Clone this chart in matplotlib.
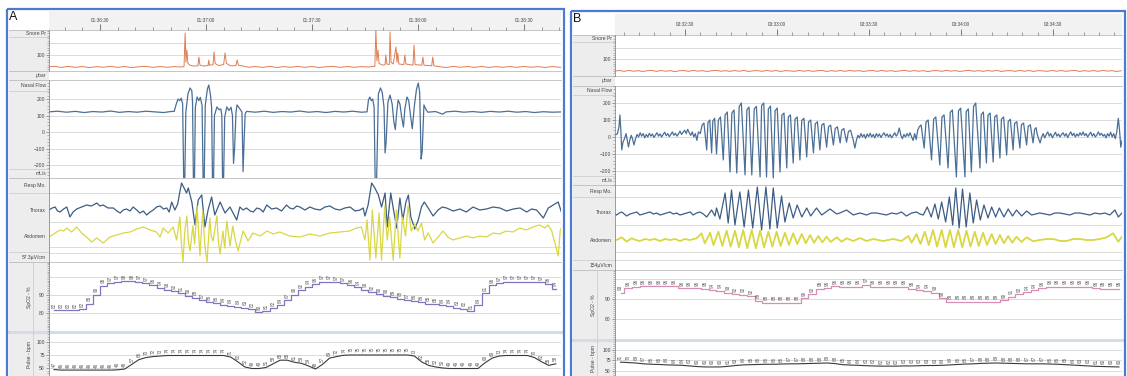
import numpy as np
import matplotlib.pyplot as plt
from matplotlib.patches import Rectangle
from matplotlib.ticker import MultipleLocator

plt.rcParams['font.family'] = ['Liberation Sans', 'DejaVu Sans']

W, H = 1127, 376

# time axis: seconds from the first labelled tick
tick_times = [0, 30, 60, 90, 120]
ticks_a = ['01:36:30', '01:37:00', '01:37:30', '01:38:00', '01:38:30']
ticks_b = ['03:32:30', '03:33:00', '03:33:30', '03:34:00', '03:34:30']

# ---------------- panel A, (time s, value) ----------------
snore_a = [(-14.5, 0), (-13, 6), (-11, -4), (-9, 5), (-7, -3), (-5, 4), (-3, -5), (-1, 3), (1, -2), (3, 6),
           (5, -3), (7, 4), (9, -5), (11, 2), (13, 5), (15, -3), (17, 4), (19, -2), (21, 3), (23, 0),
           (23.8, 5), (24.1, 283), (24.35, 40), (24.6, 142), (24.9, 30), (25.5, 15), (26.5, 8), (27.7, 10),
           (28.0, 83), (28.3, 15), (29.5, 8), (30.6, 12), (30.8, 58), (31.0, 15), (32.0, 20), (32.3, 125),
           (32.6, 30), (33.5, 12), (35.0, 20), (35.4, 117), (35.8, 30), (37, 10), (38.5, 12), (38.8, 58),
           (39.2, 15), (40.5, 8), (42, -2), (44, 4), (46, -3), (48, 5), (50, -4), (52, 3), (54, -2), (56, 5),
           (58, -3), (60, 4), (62, -4), (64, 2), (66, 5), (68, -3), (70, 4), (72, -2), (74, 3), (76, 0),
           (77.8, 5), (78.1, 308), (78.4, 50), (78.7, 142), (79.0, 30), (80.0, 15), (80.7, 20), (80.9, 100),
           (81.2, 25), (81.9, 20), (82.1, 292), (82.4, 40), (83.0, 25), (83.8, 167), (84.05, 40), (84.3, 117),
           (84.6, 25), (86.0, 20), (86.3, 100), (86.6, 25), (88.6, 15), (88.9, 183), (89.2, 20), (91.1, 15),
           (91.4, 83), (91.7, 15), (93.9, 10), (94.2, 83), (94.5, 10), (96, 3), (98, -4), (100, 5), (102, -2),
           (104, 4), (106, -3), (108, 5), (110, -4), (112, 3), (114, -2), (116, 4), (118, -3), (120, 5),
           (122, -2), (124, 3), (126, -4), (128, 4), (130, -2), (131, 0)]

flow_a = [(-14.5, 122), (-12.0, 126), (-9.5, 120), (-7.0, 125), (-4.5, 118), (-2.0, 124), (0.5, 121),
          (3.0, 127), (5.5, 119), (8.0, 124), (10.5, 120), (13.0, 126), (15.5, 122), (18.0, 118), (20.0, 124),
          (21.0, 125), (21.6, 170), (22.1, 200), (22.6, 190), (23.0, 205), (23.4, 170), (23.7, -300),
          (24.0, -300), (24.3, 120), (24.9, 230), (25.5, 267), (26.0, 250), (26.2, 180), (26.45, -300),
          (26.75, -300), (27.0, 150), (27.5, 212), (28.0, 190), (28.4, 210), (28.9, 160), (29.2, -300),
          (29.5, -300), (29.8, 160), (30.4, 260), (30.8, 285), (31.3, 220), (31.6, 150), (31.85, -300),
          (32.15, -300), (32.4, 100), (33.1, 152), (33.7, 135), (34.2, 140), (34.5, 100), (34.7, -300),
          (35.0, -280), (35.3, 90), (35.9, 152), (36.5, 130), (37.1, 150), (37.5, 100), (37.8, -190),
          (38.1, -100), (38.5, 120), (38.8, 164), (39.6, 140), (40.2, 120), (40.5, -240), (40.8, -50),
          (41.1, 110), (41.5, 125), (44.0, 120), (46.5, 126), (49.0, 119), (51.5, 124), (54.0, 121),
          (56.5, 127), (59.0, 120), (61.5, 124), (64.0, 118), (66.5, 125), (69.0, 121), (71.5, 126),
          (74.0, 120), (75.6, 122), (76.0, 195), (76.4, 212), (76.8, 190), (77.2, 200), (77.6, 150),
          (77.9, -300), (78.3, -300), (78.8, 230), (79.4, 267), (79.9, 240), (80.4, 150), (80.7, -127),
          (81.0, -60), (81.5, 180), (82.1, 224), (82.7, 170), (83.2, 60), (83.6, 15), (84.0, 120),
          (84.4, 194), (84.9, 170), (85.4, 90), (85.9, 30), (86.3, 140), (86.9, 212), (87.4, 190),
          (87.9, 100), (88.4, 20), (89.0, 160), (89.6, 260), (90.1, 297), (90.5, 240), (90.9, -164),
          (91.2, -120), (91.7, 164), (92.2, 140), (92.8, 120), (95.0, 124), (97.0, 108), (98.0, 122),
          (100.5, 126), (103.0, 120), (105.5, 124), (108.0, 119), (110.5, 125), (113.0, 121), (115.5, 126),
          (118.0, 120), (120.5, 124), (123.0, 118), (125.5, 123), (128.0, 120), (131.0, 122)]

thorax_a = [(-14.5, 0), (-13.5, 2), (-12.7, 3), (-12, -1), (-11.3, -2), (-10.3, 1), (-9.4, 3), (-8.5, -7),
            (-7.6, -2), (-6.6, 1), (-5.2, 3), (-3.8, 5), (-2.4, 4), (-0.9, 7), (0.0, 4), (0.9, 5), (2.3, 2),
            (3.8, 2), (4.8, -1), (5.7, -3), (6.6, 0), (7.5, 1), (8.5, -1), (9.4, 3), (10.4, 0), (11.3, -3),
            (12.3, -1), (13.2, -5), (14.2, -2), (15.1, 0), (16.0, 3), (17.0, 4), (18.0, 1), (18.9, 2),
            (19.6, -2), (20.3, 8), (21.2, 0), (22.0, 6), (22.6, 18), (23.1, 27), (23.8, 22), (24.5, 17),
            (25.0, 22), (26.0, 8), (26.9, -15), (27.8, 10), (28.8, 15), (29.7, -17), (30.6, 0), (31.6, 13),
            (32.5, -5), (34.0, 8), (35.4, -3), (36.8, 3), (38.7, -10), (39.6, 3), (40.5, 0), (41.5, 2),
            (42.5, -1), (43.4, -2), (44.4, 2), (45.3, 1), (46.2, -2), (47.2, 5), (48.6, 1), (50.0, 2),
            (51.4, -1), (52.8, 5), (53.7, 2), (54.7, 1), (55.7, 4), (56.6, 3), (58.0, 0), (59.4, 3),
            (60.8, 1), (62.3, 0), (63.7, 3), (65.1, 4), (66.5, 1), (67.9, 0), (69.3, 2), (70.8, 3),
            (72.2, -1), (73.6, 0), (74.5, 2), (75.0, -6), (75.9, 5), (76.9, 27), (77.8, 22), (78.8, 15),
            (79.7, 3), (80.7, 17), (81.3, -17), (82.3, 17), (83.0, 2), (84.0, -18), (84.9, 12), (85.7, -10),
            (86.6, 8), (87.3, 15), (88.0, -7), (89.1, -19), (90.1, -10), (91.0, 3), (91.8, 8), (92.9, 2),
            (94.3, -6), (95.7, 0), (96.9, 3), (98.1, 2), (100.0, -1), (101.9, 1), (103.7, -2), (105.6, 3),
            (107.5, 0), (109.4, 1), (111.3, 3), (113.2, 2), (115.1, -1), (117.0, 1), (118.9, 2), (120.8, -2),
            (122.2, 1), (123.6, 0), (125.5, -8), (126.9, 2), (128.3, 5), (129.7, 8), (130.6, -2), (131, -3)]

abdomen_a = [(-14.5, -1), (-13.5, 1), (-12.7, 3), (-11.3, 6), (-10.3, 5), (-9.4, 8), (-8.0, 4), (-6.6, 9),
             (-5.2, 3), (-3.8, -1), (-2.4, -6), (-0.9, -2), (0.9, -7), (2.8, -1), (4.7, 1), (6.6, 3), (8.5, 4),
             (10.4, 7), (12.3, 9), (14.2, 6), (16.0, 4), (17.0, -1), (17.9, 8), (19.3, 3), (20.7, 9),
             (21.7, -4), (22.6, 19), (23.1, -10), (23.5, -26), (24.0, 5), (24.6, 20), (25.0, -5), (25.5, -15),
             (26.3, 10), (26.8, -8), (27.5, 30), (28.3, -20), (28.7, 5), (29.1, 25), (29.7, -10), (30.3, -26),
             (31.1, 18), (31.5, 0), (32.0, -5), (33.1, 20), (33.5, -5), (34.0, -18), (34.8, 5), (35.3, -12),
             (35.9, 15), (36.8, -10), (37.6, 10), (38.3, -4), (39.1, -15), (40.5, 5), (41.9, -5), (43.3, 3),
             (45.3, 0), (47.3, 5), (49.0, 2), (50.9, 4), (53.7, 0), (56.6, -1), (59.4, 2), (62.2, 0), (65.1, 3),
             (67.9, 4), (70.7, 5), (72.6, 8), (74.0, 9), (75.0, -4), (75.6, 16), (76.4, -24), (77.1, 26),
             (78.1, -22), (79.0, 23), (79.7, -24), (80.6, 30), (81.3, -4), (82.0, 19), (83.0, -24), (83.9, 26),
             (84.9, -22), (85.6, 19), (86.5, 0), (87.2, 30), (88.1, 5), (89.1, 12), (90.0, 5), (91.0, 13),
             (91.9, -4), (92.9, 3), (94.3, -7), (95.7, -1), (97.1, 5), (98.5, -1), (99.9, -4), (101.8, -2),
             (103.7, 0), (105.6, -2), (107.5, 0), (109.4, -1), (111.3, 3), (113.1, 2), (115.0, 5), (116.9, 4),
             (118.8, 8), (120.7, 6), (122.6, 9), (124.5, 11), (125.9, 8), (126.8, 11), (127.8, 6), (129.0, -10),
             (129.7, -20), (130.3, 6), (131.0, 11)]

# SpO2 (%) and pulse (bpm), one reading every 2 s from t = -13 s
spo2_a = [81.5, 81.5, 81.5, 81.5, 82, 85, 90, 95, 96.6, 97.2,
          97.5, 97.5, 97.2, 96.6, 95.5, 94, 92.8, 92, 91, 89.5,
          88.3, 87, 86, 85.5, 84.5, 84, 83.5, 83, 82, 80.5,
          80.8, 82.5, 84.4, 87, 90, 92.5, 94.5, 96, 97.2, 97.2,
          97, 96.6, 95.5, 94.2, 93, 91.5, 90.5, 89.5, 88.8, 87.8,
          87, 86.5, 85.8, 85.2, 84.8, 84.2, 84, 83, 82.2, 81,
          84.4, 91, 95.5, 96.6, 97.2, 97.2, 97.2, 97.2, 97.2, 97,
          96, 93.5]
pulse_a = [47, 46, 46, 46, 46, 46, 46, 46, 46, 46.5,
           48, 57, 66, 70, 72, 73, 74, 74, 74, 74,
           74, 74, 74, 74, 74, 71, 62, 52, 49, 49,
           51, 58, 65, 65, 61, 59, 54, 48, 57, 69,
           72, 74.5, 75, 75, 75, 75, 75, 75, 75, 75,
           75, 73, 62, 55, 52, 50, 49, 49, 49, 49,
           49, 60, 69, 73, 74, 74, 74, 74, 70, 62,
           55, 58]

# ---------------- panel B ----------------
# snore pressure, one reading every 1.5 s from t = -22.8 s
snore_b = [0, 4, -3, 5, -2, 3, -4, 2, 5, -3, 4, -2, 3, -5, 2, 4, -3, 5, -1, 3,
           -4, 2, 5, -2, 3, -3, 4, -2, 5, -4, 2, 3, -3, 5, -2, 4, -4, 3, 1, -3,
           5, -2, 4, -3, 2, 5, -4, 3, -2, 4, -3, 5, -1, 3, -4, 2, 4, -3, 5, -2,
           3, -4, 2, 5, -3, 4, -2, 3, -5, 2, 4, -3, 5, -1, 3, -4, 2, 5, -2, 3,
           -3, 4, -2, 5, -4, 2, 3, -3, 5, -2, 4, -4, 3, 1, -3, 5, -2, 4, -3, 2,
           5, -4, 3, -2, 4, -3, 5, -1, 3, -4, 2]

flow_b = [(-22.8, 10), (-22.0, 20), (-21.5, 60), (-21.2, 130), (-20.9, 40), (-20.6, -76), (-20.2, -30),
          (-19.7, -10), (-19.2, 20), (-18.8, -20), (-18.4, -59), (-18.0, -20), (-17.5, 10), (-17.1, -10),
          (-16.6, -47), (-16.1, -10), (-15.6, 15), (-15.1, 0), (-14.6, 25), (-14.1, 5), (-13.6, 20),
          (-13.1, -5), (-12.6, 15), (-12.1, 0), (-11.6, 22), (-11.1, 5), (-10.6, 18), (-10.1, -3), (-9.6, 12),
          (-9.1, 25), (-8.6, 5), (-8.1, 18), (-7.6, 0), (-7.1, 15), (-6.6, 28), (-6.1, 8), (-5.6, 20),
          (-5.1, 2), (-4.6, 15), (-4.1, 30), (-3.6, 10), (-3.1, 22), (-2.6, 5), (-2.1, 18), (-1.6, 35),
          (-1.1, 15), (-0.6, 28), (-0.1, 40), (0.4, 20), (0.9, 45), (1.4, 25), (1.9, 10), (2.4, 30), (2.9, 0),
          (3.4, 20), (3.9, -20), (4.4, 30), (5.0, 20),
          (5.6, 70), (6.2, 82), (7.1, -76), (7.5, 85), (8.1, 100), (8.7, -94), (9.1, 95), (9.7, 110),
          (10.3, -100), (10.9, 100), (11.6, 118), (12.5, -135), (13.1, 130), (13.8, 147), (14.7, -206),
          (15.3, 140), (16.0, 159), (16.9, -212), (17.7, 180), (18.4, 200), (19.6, -223), (20.2, 160),
          (20.9, 176), (21.8, -223), (22.6, 165), (23.3, 180), (24.5, -235), (25.0, 185), (25.7, 200),
          (26.6, -235), (27.2, 165), (27.9, 182), (28.8, -241), (29.4, 155), (30.1, 170), (31.0, -206),
          (31.6, 128), (32.3, 141), (33.2, -182), (33.7, 118), (34.4, 130), (35.3, -153), (35.9, 105),
          (36.6, 118), (37.5, -135), (38.1, 98), (38.8, 110), (39.7, -118), (40.3, 88), (41.0, 100),
          (41.9, -94), (42.5, 78), (43.2, 90), (44.0, -76), (44.6, 70), (45.3, 80), (46.2, -60), (46.8, 60),
          (47.5, 70), (48.4, -47), (49.0, 50), (49.7, 60), (50.6, -35), (51.1, 40), (51.8, 50), (52.7, -30),
          (53.3, 32), (54.0, 40), (54.9, -20),
          (55.4, -65), (55.9, -20), (56.4, 10), (56.9, -5), (57.4, 20), (57.9, 0), (58.4, 15), (58.9, -8),
          (59.4, 18), (59.9, 2), (60.4, 22), (60.9, 0), (61.4, 15), (61.9, -5), (62.4, 20), (62.9, 3),
          (63.4, 18), (63.9, -3), (64.4, 12), (64.9, 25), (65.4, 5), (65.9, 18), (66.4, 0), (66.9, 15),
          (67.4, -5), (67.9, 10), (68.4, 25), (68.9, 5), (69.4, 20), (69.9, 53), (70.4, 10), (70.9, -10),
          (71.4, 15), (71.9, 0), (72.4, 20), (72.9, 5), (73.4, 25), (73.9, 0), (74.4, -20), (74.9, 20),
          (75.4, -15), (75.9, 40),
          (76.4, 60), (77.0, 71), (78.0, -65), (78.6, 88), (79.3, 100), (80.4, -135), (81.1, 105),
          (81.8, 118), (83.1, -165), (83.8, 118), (84.5, 130), (85.8, -182), (86.5, 145), (87.2, 159),
          (88.5, -235), (89.2, 155), (89.9, 170), (91.3, -235), (91.7, 150), (92.4, 165), (93.4, -206),
          (94.1, 180), (94.8, 200), (96.2, -182), (96.6, 132), (97.3, 147), (98.3, -153), (98.8, 128),
          (99.5, 141), (100.5, -147), (101.0, 118), (101.7, 130), (102.7, -124), (103.2, 105), (103.9, 118),
          (104.9, -106), (105.4, 92), (106.1, 104), (107.0, -76), (107.5, 80), (108.2, 90), (109.2, -65),
          (109.7, 72), (110.4, 82), (111.4, -47), (111.9, 62), (112.6, 72), (113.5, -35), (114.0, 45),
          (114.5, 55),
          (114.8, 20), (115.3, -10), (115.8, -35), (116.3, 0), (116.8, 20), (117.3, -5), (117.8, 15),
          (118.3, 30), (118.8, 5), (119.3, 20), (119.8, -5), (120.3, 12), (120.8, 28), (121.3, 5), (121.8, 18),
          (122.3, 0), (122.8, 15), (123.3, 25), (123.8, 5), (124.3, 20), (124.8, -3), (125.3, 15), (125.8, 30),
          (126.3, 8), (126.8, 22), (127.3, 0), (127.8, 18), (128.3, 5), (128.8, 25), (129.3, 10), (129.8, 30),
          (130.3, 8), (130.8, 20), (131.3, 0), (131.8, 15), (132.3, 28), (132.8, 5), (133.3, 20), (133.8, 0),
          (134.3, 12), (134.8, 30), (135.3, 10), (135.8, 22), (136.3, 5), (136.8, 15), (137.3, -5),
          (137.8, 20), (138.3, 5), (138.8, 28), (139.3, 0), (139.8, 20), (140.3, -10), (140.8, 30),
          (141.3, 110), (141.7, 40), (142.1, -60), (142.5, -20)]

thorax_b = [(-22.8, -1), (-22.3, -2), (-21.4, 0), (-20.6, 1), (-19.8, -1), (-19.0, -3), (-17.9, -1), (-16.8, 0),
            (-15.7, 1), (-14.7, -2), (-13.6, -1), (-12.5, 0), (-11.4, 1), (-10.3, -1), (-9.2, 0), (-8.1, -2),
            (-7.0, -1), (-6.0, 0), (-4.9, 1), (-3.8, -1), (-2.7, 0), (-1.6, -2), (-0.5, -1), (0.6, 0),
            (1.7, 1), (2.7, -2), (3.8, 0), (4.9, 1), (6.0, -1), (7.1, -4), (8.7, 3), (9.8, -3), (10.3, 5),
            (11.4, -6), (13.1, 20), (14.1, -10), (15.2, 23), (16.3, -12), (17.9, 21), (19.3, -14), (20.7, 23),
            (22.1, -15), (23.6, 26), (25.0, -17), (26.4, 26), (27.7, -16), (28.8, 25), (30.1, -15), (31.5, 17),
            (32.6, -9), (34.0, 10), (35.3, -5), (36.6, 8), (38.1, -4), (39.7, 5), (41.0, -3), (42.9, 5),
            (44.6, -2), (47.3, 4), (49.5, -1), (50.5, 0), (52.7, 3), (54.9, -2), (55.9, -1), (57.1, 0),
            (59.2, -2), (60.8, 0), (62.5, 0), (64.1, -1), (65.7, -2), (67.4, 0), (69.0, -1), (70.6, 1),
            (72.2, -3), (73.9, 0), (75.5, 1), (76.6, -1), (77.7, -2), (79.0, 6), (80.3, -4), (81.5, 9),
            (82.6, -6), (83.7, 11), (85.0, -9), (86.2, 16), (87.3, -12), (88.3, 25), (89.4, -15), (90.5, 24),
            (91.7, -14), (92.9, 20), (94.0, -10), (95.1, 13), (96.3, -7), (97.5, 8), (98.8, -5), (100.0, 6),
            (101.3, -4), (102.5, 5), (104.0, -4), (105.4, 4), (106.8, -3), (108.1, 3), (109.8, -3), (111.4, 2),
            (113.0, -2), (115.7, 0), (117.4, -1), (119.0, -2), (120.6, 0), (122.2, 0), (123.9, -1), (125.5, -2),
            (127.1, 0), (128.8, 0), (130.4, -1), (132.0, -2), (133.7, 0), (135.3, -1), (136.9, 0), (138.5, -2),
            (140.2, 3), (141.3, -4), (142.5, 0)]

abdomen_b = [(-22.8, 0), (-22.3, 0), (-20.6, 2.7), (-19.0, -1.7), (-17.4, 1.7), (-16.0, 0), (-14.7, -1),
             (-13.0, 1), (-11.4, 0), (-9.8, 1), (-8.1, -1), (-6.5, 1), (-4.9, 0), (-3.2, 1), (-1.6, -1),
             (0.0, 1), (1.6, 0), (3.8, 1.7), (5.4, 6.7), (6.5, -3.3), (8.2, 7.3), (9.3, -5), (10.9, 8.3),
             (12.2, -6), (13.6, 9.3), (14.9, -6.7), (16.3, 9.3), (17.6, -7.3), (19.0, 10), (20.3, -8.3),
             (21.8, 10), (23.1, -8.3), (24.5, 9.3), (25.8, -7.3), (27.2, 8.3), (28.5, -6.7), (29.9, 8.3),
             (31.2, -6), (32.6, 7.3), (33.9, -5), (35.3, 6.7), (36.6, -4), (38.1, 6), (39.4, -3.3), (40.8, 5),
             (42.1, -2.7), (43.5, 4), (44.8, -2.3), (46.2, 3.3), (47.5, -2), (49.5, 2.7), (51.1, -1.7),
             (52.7, 1.7), (54.9, -1), (57.0, 2), (59.2, -1), (61.4, 1), (64.6, -1), (67.9, 1), (70.6, -1),
             (72.8, 4), (73.9, -2.7), (75.5, 6), (76.8, -4), (78.2, 8.3), (79.5, -5), (80.9, 10), (82.2, -6.7),
             (83.7, 10), (85.0, -7.3), (86.4, 10), (87.7, -7.3), (89.1, 10), (90.4, -7.3), (91.8, 9.3),
             (93.1, -6.7), (94.5, 8.3), (95.8, -6), (97.2, 7.3), (98.5, -5), (100.0, 6), (101.3, -4),
             (102.7, 5), (104.0, -3.3), (105.4, 4), (106.7, -2.7), (108.1, 3.3), (109.7, -2), (111.4, 2.7),
             (113.5, -1.3), (115.7, 0), (117.9, 1), (120.1, 1), (122.3, -1), (124.4, -1), (126.6, 1),
             (128.8, 1), (131.0, 0), (133.1, 0), (135.3, 1), (137.5, 2.7), (139.6, 6.7), (141.3, -1.7),
             (142.5, 3.3)]

# SpO2 (%) and pulse (bpm), one reading every 2.5 s from t = -21 s
spo2_b = [93, 95.5, 96, 96.5, 96.5, 96.5, 96.5, 96.5, 95.5, 95.5,
          95.5, 95, 94.5, 94, 93, 92.5, 92, 91.5, 89, 88.2,
          88.2, 88.2, 88, 88, 90.5, 92.5, 95, 95.5, 96.5, 96,
          96, 96, 97, 96, 96, 96, 96, 96, 95, 94.5,
          94, 93, 90.5, 88.7, 88.7, 88.7, 88.7, 88.7, 88.7, 88.7,
          89.5, 91, 92.5, 93.5, 94.5, 95.5, 96, 96, 96, 96,
          96, 96, 95.5, 95, 95, 95]
pulse_b = [71, 70, 69, 67, 66, 65.5, 64.5, 64, 63.5, 62,
           60.5, 59.6, 59.6, 59.6, 61, 63, 64.5, 65, 65.5, 66,
           66, 66.5, 67, 67, 67.5, 68, 68.5, 69, 67.5, 65,
           64, 63.5, 62.5, 62, 61.5, 61.5, 61.5, 62, 62, 62.5,
           63, 63, 63.5, 64.5, 65.5, 66.5, 67, 68, 68.5, 69,
           68.5, 68, 67.5, 67, 67, 67, 66.5, 66, 65, 64,
           63, 62, 61, 60.5, 60, 59.6]

GRID = '#d6d6d6'
TXT = '#444444'

layout_a = dict(box=(7, 9, 564), letter='A', lab=9, px0=49, px1=561, tlim=(-14.43, 130.5),
                header=(11, 30), snore=(30, 71, (-33.3, 308.3)), flow=(80, 178, (-278.8, 315.2)),
                resp=(178, 262, -32, -58), spo2=(262, 332, (69.4, 108.3)), pulse=(332, 376, (34.6, 119.2)),
                full_seps=[30, 71, 80, 178, 262], lab_seps=[37, 91, 169, 193, 252], split_x=33,
                labels=[('Snore Pr', 33.5), ('µbar', 75.5), ('Nasal Flow', 85.5), ('mL/s', 173.5),
                        ('Resp Mo.', 186), ('Thorax', 210), ('Abdomen', 236), ('57.3µV/cm', 257)],
                resp_grid=[193, 222, 247, 253], spo2_col='#7b78c0', abd_lw=0.9, ticks=ticks_a)

layout_b = dict(box=(571, 11, 1125), letter='B', lab=573, px0=615, px1=1122, tlim=(-22.8, 142.5),
                header=(14, 35), snore=(35, 76, (-43.5, 313.0)), flow=(86, 185, (-282.4, 300.0)),
                resp=(185, 270, -28, -55), spo2=(270, 340, (69.5, 104.5)), pulse=(340, 376, (38.0, 123.8)),
                full_seps=[35, 76, 86, 185, 270], lab_seps=[42, 95, 176, 197, 260], split_x=597,
                labels=[('Snore Pr', 38.5), ('µbar', 80.5), ('Nasal Flow', 90.5), ('mL/s', 180.5),
                        ('Resp Mo.', 191), ('Thorax', 213), ('Abdomen', 240), ('154µV/cm', 265)],
                resp_grid=[197, 225, 252, 260], spo2_col='#d88db4', abd_lw=1.3, ticks=ticks_b)

fig = plt.figure(figsize=(W / 100, H / 100), dpi=100)
bg = fig.add_axes([0, 0, 1, 1])
bg.set_xlim(0, W)
bg.set_ylim(H, 0)
bg.axis('off')


def channel(lay, y0, y1, ylim):
    px0, px1 = lay['px0'], lay['px1']
    ax = fig.add_axes([px0 / W, 1 - y1 / H, (px1 - px0) / W, (y1 - y0) / H])
    ax.set_xlim(*lay['tlim'])
    ax.set_ylim(*ylim)
    ax.patch.set_visible(False)
    for s in ('top', 'right', 'bottom'):
        ax.spines[s].set_visible(False)
    ax.spines['left'].set_color('#8a8a8a')
    ax.spines['left'].set_linewidth(0.6)
    ax.set_xticks([])
    ax.tick_params(axis='y', which='major', labelsize=3.6, length=2.2, width=0.5, pad=0.8,
                   color='#777777', labelcolor=TXT)
    ax.tick_params(axis='y', which='minor', length=1.1, width=0.4, color='#888888')
    return ax


def trace(ax, pts, offset=0.0, **kw):
    t, v = np.array(pts, dtype=float).T
    ax.plot(t, v + offset, **kw)


def value_labels(ax, t, v):
    for ti, vi in zip(t, v):
        ax.annotate(str(int(round(vi))), (ti, vi), xytext=(0, 2.5), textcoords='offset pixels',
                    rotation=90, ha='center', va='bottom', fontsize=3.3, color='#5a5a5a')


def draw_panel(lay, sig):
    bx0, by0, bx1 = lay['box']
    lab, px0, px1 = lay['lab'], lay['px0'], lay['px1']
    hy0, hy1 = lay['header']

    bg.add_patch(Rectangle((lab, hy1), px0 - lab, H - hy1, fc='#ededed', ec='none', zorder=1))
    bg.add_patch(Rectangle((px0, hy0), px1 - px0, hy1 - hy0, fc='#f2f2f2', ec='none', zorder=1))
    bg.add_patch(Rectangle((bx0, by0), bx1 - bx0, H + 10 - by0, fc='none', ec='#4a7bd0', lw=1.6, zorder=5))
    bg.text(bx0 + 2, by0 + 2.5, lay['letter'], fontsize=9, ha='left', va='top', color='#111111', zorder=6)
    for y in lay['full_seps']:
        bg.plot([lab, px1], [y, y], color='#bdbdbd', lw=0.6, zorder=2)
    for y in lay['lab_seps']:
        bg.plot([lab, px0], [y, y], color='#c8c8c8', lw=0.5, zorder=2)
    ysp = lay['spo2'][1]
    bg.plot([lab, px1], [ysp, ysp], color='#d6dce3', lw=2.2, zorder=2)
    sx = lay['split_x']
    bg.plot([sx, sx], [lay['spo2'][0], H], color='#c8c8c8', lw=0.5, zorder=2)
    for txt, y in lay['labels']:
        bg.text(px0 - 3, y, txt, fontsize=3.6, ha='right', va='center', color=TXT, zorder=3)
    bg.text(sx - 3.5, (lay['spo2'][0] + lay['spo2'][1]) / 2, 'SpO2 - %', rotation=90, fontsize=3.6,
            ha='center', va='center', color=TXT, zorder=3)
    bg.text(sx - 3.5, (lay['pulse'][0] + H) / 2 + 1, 'Pulse - bpm', rotation=90, fontsize=3.6,
            ha='center', va='center', color=TXT, zorder=3)

    # time header
    hx = fig.add_axes([px0 / W, 1 - hy1 / H, (px1 - px0) / W, (hy1 - hy0) / H])
    hx.set_xlim(*lay['tlim'])
    hx.set_ylim(0, 1)
    hx.patch.set_visible(False)
    for s in hx.spines.values():
        s.set_visible(False)
    hx.set_yticks([])
    hx.set_xticks(tick_times)
    hx.set_xticklabels([])
    hx.xaxis.set_minor_locator(MultipleLocator(5))
    hx.tick_params(axis='x', which='major', direction='in', length=4, width=0.6, color='#666666')
    hx.tick_params(axis='x', which='minor', direction='in', length=2, width=0.5, color='#777777')
    for t, s in zip(tick_times, lay['ticks']):
        hx.text(t, 0.5, s, ha='center', va='center', fontsize=3.4, color=TXT)

    # snore
    y0, y1, ylim = lay['snore']
    ax = channel(lay, y0, y1, ylim)
    ax.set_yticks([100])
    ax.yaxis.set_minor_locator(MultipleLocator(20))
    for g in (100, 200):
        ax.axhline(g, color=GRID, lw=0.6, zorder=0)
    trace(ax, sig['snore'], color='#de7d52', lw=0.7)

    # nasal flow
    y0, y1, ylim = lay['flow']
    ax = channel(lay, y0, y1, ylim)
    ax.set_yticks([-200, -100, 0, 100, 200])
    ax.yaxis.set_minor_locator(MultipleLocator(20))
    for g in (-200, -100, 0, 100, 200):
        ax.axhline(g, color=GRID, lw=0.6, zorder=0)
    trace(ax, sig['flow'], color='#4b6f96', lw=0.9)

    # respiratory effort
    y0, y1, off_t, off_a = lay['resp']
    ax = channel(lay, y0, y1, (-(y1 - y0), 0))
    ax.set_yticks([])
    for g in lay['resp_grid']:
        ax.axhline(-(g - y0), color=GRID, lw=0.6, zorder=0)
    trace(ax, sig['thorax'], off_t, color='#3d5d84', lw=0.9)
    trace(ax, sig['abdomen'], off_a, color='#d9d742', lw=lay['abd_lw'])

    # SpO2
    y0, y1, ylim = lay['spo2']
    ax = channel(lay, y0, y1, ylim)
    ax.set_yticks([80, 90])
    ax.yaxis.set_minor_locator(MultipleLocator(1))
    for g in (80, 90, 100):
        ax.axhline(g, color=GRID, lw=0.6, zorder=0)
    t, v = sig['spo2']
    ax.plot(t, v, drawstyle='steps-mid', color=lay['spo2_col'], lw=0.9)
    value_labels(ax, t, v)

    # pulse
    y0, y1, ylim = lay['pulse']
    ax = channel(lay, y0, y1, ylim)
    ax.set_yticks([50, 75, 100])
    ax.yaxis.set_minor_locator(MultipleLocator(5))
    for g in (50, 75, 100):
        ax.axhline(g, color=GRID, lw=0.6, zorder=0)
    t, v = sig['pulse']
    ax.plot(t, v, color='#3a3a3a', lw=0.8)
    value_labels(ax, t, v)


t_a = -13 + 2 * np.arange(len(spo2_a))
t_b = -21 + 2.5 * np.arange(len(spo2_b))
t_snore_b = -22.8 + 1.5 * np.arange(len(snore_b))

draw_panel(layout_a, dict(snore=snore_a, flow=flow_a, thorax=thorax_a, abdomen=abdomen_a,
                          spo2=(t_a, spo2_a), pulse=(t_a, pulse_a)))
draw_panel(layout_b, dict(snore=list(zip(t_snore_b, snore_b)), flow=flow_b, thorax=thorax_b,
                          abdomen=abdomen_b, spo2=(t_b, spo2_b), pulse=(t_b, pulse_b)))

fig.savefig('out.png', dpi=100)
